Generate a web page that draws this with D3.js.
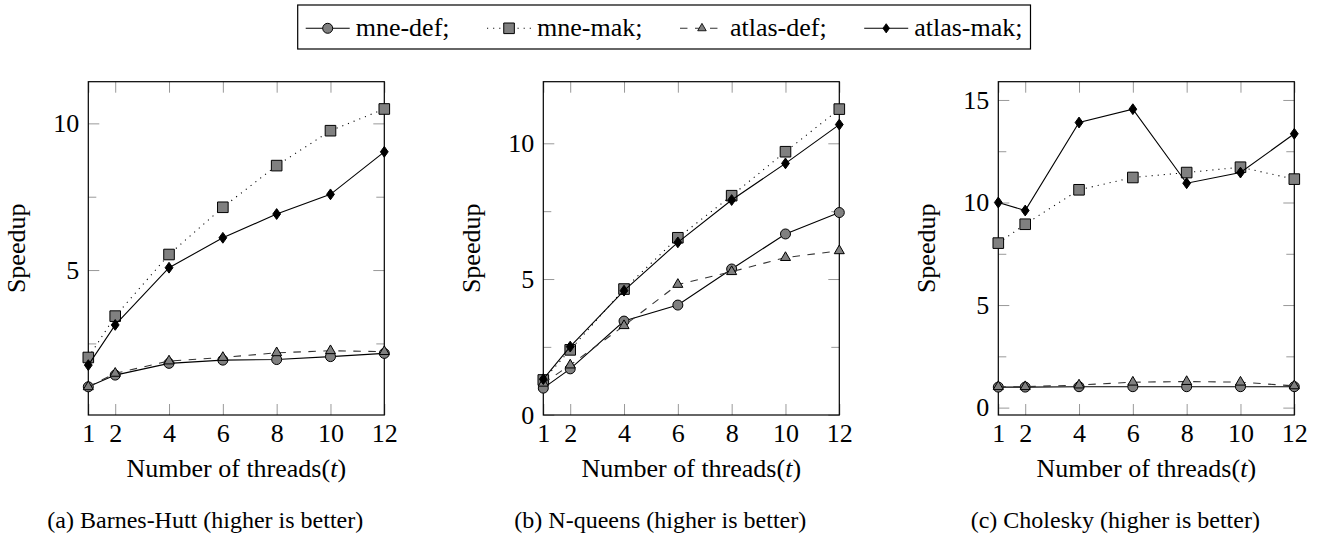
<!DOCTYPE html>
<html>
<head>
<meta charset="utf-8">
<script src="https://cdn.jsdelivr.net/npm/d3@7"></script>
<style>
  body { margin: 0; background: #fff; }
  svg { display: block; }
</style>
</head>
<body>
<svg id="chart" width="1321" height="536"></svg>
<script>
// thread counts on the x axis
const threads = [1, 2, 4, 6, 8, 10, 12];
const seriesNames = ["mne-def;", "mne-mak;", "atlas-def;", "atlas-mak;"];

// (a) Barnes-Hutt
const bhMneDef = [1.02, 1.42, 1.82, 1.93, 1.95, 2.05, 2.16];
const bhMneMak = [2.02, 3.43, 5.53, 7.14, 8.56, 9.75, 10.49];
const bhAtlasDef = [1.02, 1.48, 1.90, 2.02, 2.18, 2.25, 2.22];
const bhAtlasMak = [1.76, 3.13, 5.08, 6.10, 6.91, 7.58, 9.03];

// (b) N-queens
const nqMneDef = [0.98, 1.69, 3.45, 4.04, 5.37, 6.66, 7.45];
const nqMneMak = [1.28, 2.39, 4.63, 6.52, 8.07, 9.69, 11.26];
const nqAtlasDef = [1.16, 1.83, 3.28, 4.80, 5.27, 5.79, 6.04];
const nqAtlasMak = [1.31, 2.51, 4.57, 6.35, 7.91, 9.26, 10.69];

// (c) Cholesky
const chMneDef = [1.00, 1.00, 1.02, 1.02, 1.02, 1.02, 1.02];
const chMneMak = [8.02, 8.94, 10.62, 11.22, 11.46, 11.72, 11.14];
const chAtlasDef = [1.02, 1.02, 1.10, 1.24, 1.27, 1.24, 1.06];
const chAtlasMak = [10.00, 9.61, 13.90, 14.55, 10.94, 11.46, 13.35];

// y ticks: labelled and unlabelled
const bhTicks = [5, 10], bhMinor = [2.5, 7.5];
const nqTicks = [0, 5, 10], nqMinor = [2.5, 7.5];
const chTicks = [0, 5, 10, 15], chMinor = [2.5, 7.5, 12.5];

const captions = ["(a) Barnes-Hutt (higher is better)", "(b) N-queens (higher is better)", "(c) Cholesky (higher is better)"];

const panels = [
    { series: [bhMneDef, bhMneMak, bhAtlasDef, bhAtlasMak], ticks: bhTicks, minor: bhMinor, ymin: 0.06, ymax: 11.42, left: 88.3 },
    { series: [nqMneDef, nqMneMak, nqAtlasDef, nqAtlasMak], ticks: nqTicks, minor: nqMinor, ymin: -0.01, ymax: 12.27, left: 543.3 },
    { series: [chMneDef, chMneMak, chAtlasDef, chAtlasMak], ticks: chTicks, minor: chMinor, ymin: -0.36, ymax: 15.89, left: 998.3 }
];

const styles = [
    { dash: null, mark: "circle", fill: "#808080", stroke: "#000" },
    { dash: "1.1 5", mark: "square", fill: "#808080", stroke: "#000" },
    { dash: "7.5 7.5", mark: "triangle", fill: "#808080", stroke: "#333" },
    { dash: null, mark: "diamond", fill: "#000", stroke: "#000" }
];

const FONT = "Liberation Serif";
const plotW = 296, plotTop = 81.7, plotBottom = 415;
const tickColor = "#999";
const svg = d3.select("#chart");

function markPath(type) {
    if (type === "circle") return d3.symbol(d3.symbolCircle, Math.PI * 25)();
    if (type === "square") return "M-5.3,-5.3H5.3V5.3H-5.3Z";
    if (type === "triangle") return "M0,-5.8L5.02,2.9L-5.02,2.9Z";
    return "M0,-5.4L3.9,0L0,5.4L-3.9,0Z";
}

panels.forEach((p, pi) => {
    const x = d3.scaleLinear().domain([1, 12]).range([p.left, p.left + plotW]);
    const y = d3.scaleLinear().domain([p.ymin, p.ymax]).range([plotBottom, plotTop]);
    const g = svg.append("g");

    // ticks on all four sides, pointing inward
    const axes = [
        { ax: d3.axisBottom(x).tickValues(threads).tickSize(-11).tickPadding(9), t: `translate(0,${plotBottom})` },
        { ax: d3.axisTop(x).tickValues(threads).tickSize(-11).tickFormat(""), t: `translate(0,${plotTop})` },
        { ax: d3.axisLeft(y).tickValues(p.ticks).tickSize(-11).tickPadding(9).tickFormat(d3.format("d")), t: `translate(${p.left},0)` },
        { ax: d3.axisLeft(y).tickValues(p.minor).tickSize(-8).tickFormat(""), t: `translate(${p.left},0)` },
        { ax: d3.axisRight(y).tickValues(p.ticks).tickSize(-11).tickFormat(""), t: `translate(${p.left + plotW},0)` },
        { ax: d3.axisRight(y).tickValues(p.minor).tickSize(-8).tickFormat(""), t: `translate(${p.left + plotW},0)` }
    ];
    axes.forEach(a => {
        const ag = g.append("g").attr("transform", a.t).call(a.ax);
        ag.attr("font-family", FONT).attr("font-size", 26);
        ag.select(".domain").remove();
        ag.selectAll(".tick line").attr("stroke", tickColor).attr("stroke-width", 1);
        ag.selectAll(".tick text")
            .attr("fill", "#000")
            .attr("font-family", FONT)
            .attr("font-size", 26);
    });

    // frame
    g.append("rect")
        .attr("x", p.left).attr("y", plotTop)
        .attr("width", plotW).attr("height", plotBottom - plotTop)
        .attr("fill", "none").attr("stroke", "#000").attr("stroke-width", 1.2);

    const line = d3.line().x((d, i) => x(threads[i])).y(d => y(d));

    p.series.forEach((vals, si) => {
        const st = styles[si];
        g.append("path")
            .attr("d", line(vals))
            .attr("fill", "none")
            .attr("stroke", st.stroke)
            .attr("stroke-width", 1.1)
            .attr("stroke-dasharray", st.dash);
        g.selectAll(null).data(vals).enter().append("path")
            .attr("d", markPath(st.mark))
            .attr("transform", (d, i) => `translate(${x(threads[i])},${y(d)})`)
            .attr("fill", st.fill)
            .attr("stroke", "#000")
            .attr("stroke-width", 1);
    });

    // axis titles
    g.append("text")
        .attr("transform", `translate(${p.left - 63},${(plotTop + plotBottom) / 2}) rotate(-90)`)
        .attr("text-anchor", "middle")
        .attr("font-family", FONT)
        .attr("font-size", 26)
        .text("Speedup");

    const xlab = g.append("text")
        .attr("x", p.left + plotW / 2)
        .attr("y", 477)
        .attr("text-anchor", "middle")
        .attr("font-family", FONT)
        .attr("font-size", 26);
    xlab.append("tspan").text("Number of threads(");
    xlab.append("tspan").attr("font-style", "italic").text("t");
    xlab.append("tspan").text(")");

    g.append("text")
        .attr("x", p.left + plotW / 2 - 31)
        .attr("y", 528)
        .attr("text-anchor", "middle")
        .attr("font-family", FONT)
        .attr("font-size", 24)
        .text(captions[pi]);
});

// legend
const legend = svg.append("g");
const boxLeft = 297.7, boxTop = 5, boxBottom = 49, legY = 28.3;
let lx = boxLeft + 8;
seriesNames.forEach((name, i) => {
    const st = styles[i];
    legend.append("line")
        .attr("x1", lx).attr("x2", lx + 44)
        .attr("y1", legY).attr("y2", legY)
        .attr("stroke", st.stroke).attr("stroke-width", 1.1)
        .attr("stroke-dasharray", st.dash);
    legend.append("path")
        .attr("d", markPath(st.mark))
        .attr("transform", `translate(${lx + 22},${legY}) scale(${st.mark === "triangle" || st.mark === "diamond" ? 0.85 : 1})`)
        .attr("fill", st.fill).attr("stroke", "#000").attr("stroke-width", 1);
    const t = legend.append("text")
        .attr("x", lx + 50).attr("y", 36)
        .attr("font-family", FONT)
        .attr("font-size", 26)
        .text(name);
    lx = lx + 50 + t.node().getComputedTextLength() + 37.5;
});
legend.insert("rect", ":first-child")
    .attr("x", boxLeft).attr("y", boxTop)
    .attr("width", lx - 37.5 + 8 - boxLeft).attr("height", boxBottom - boxTop)
    .attr("fill", "#fff").attr("stroke", "#000").attr("stroke-width", 1.2);
</script>
</body>
</html>
